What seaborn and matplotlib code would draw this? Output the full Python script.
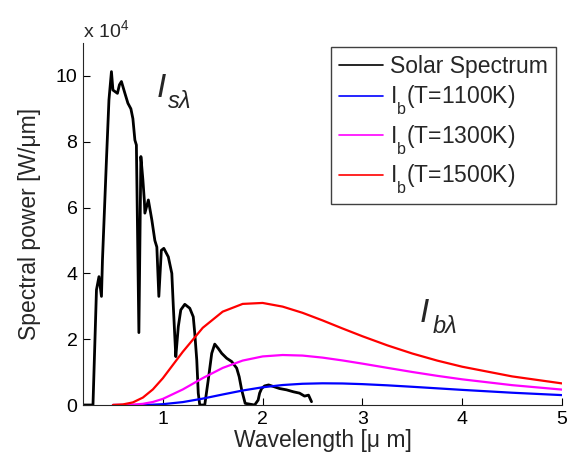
import numpy as np
import pandas as pd
import matplotlib
matplotlib.use("Agg")
import matplotlib.pyplot as plt
import matplotlib._mathtext as _mt
import seaborn as sns

# ---- data (spectral power in units of 1e4 W/um) ----
solar_wl = [0.20, 0.30, 0.335, 0.36, 0.385, 0.395, 0.435, 0.46, 0.485, 0.50, 0.545, 0.565,
            0.585, 0.62, 0.65, 0.68, 0.70, 0.72, 0.735, 0.76, 0.78, 0.80, 0.815, 0.82,
            0.855, 0.89, 0.92, 0.94, 0.96, 0.985, 1.01, 1.055, 1.09, 1.105, 1.12, 1.13,
            1.155, 1.18, 1.22, 1.27, 1.305, 1.32, 1.34, 1.355, 1.37, 1.42, 1.455, 1.49,
            1.52, 1.555, 1.59, 1.64, 1.69, 1.74, 1.765, 1.79, 1.825, 1.92, 1.955, 1.97,
            1.99, 2.02, 2.06, 2.11, 2.17, 2.24, 2.31, 2.37, 2.42, 2.46, 2.49]
solar_pw = [0, 0, 3.5, 3.9, 3.3, 4.4, 7.45, 9.27, 10.13, 9.57, 9.47, 9.73,
            9.83, 9.47, 9.17, 9.0, 8.7, 8.05, 7.9, 2.2, 7.55, 6.85, 6.2, 5.83,
            6.23, 5.62, 5.0, 4.8, 3.3, 4.7, 4.76, 4.5, 4.0, 3.0, 2.08, 1.47,
            2.38, 2.89, 3.06, 2.94, 2.68, 2.18, 1.37, 0.36, 0, 0, 0.76, 1.57,
            1.85, 1.72, 1.57, 1.42, 1.32, 1.12, 0.86, 0.46, 0.05, 0, 0.15, 0.36,
            0.5, 0.58, 0.61, 0.56, 0.5, 0.46, 0.40, 0.36, 0.27, 0.3, 0.1]

bb_wl = [0.5, 0.6, 0.7, 0.8, 0.9, 1.0, 1.2, 1.4, 1.6, 1.8, 2.0, 2.2, 2.4, 2.6, 2.8,
         3.0, 3.25, 3.5, 3.75, 4.0, 4.5, 5.0]
bb_1100 = [0.0, 0.0, 0.0005, 0.0029, 0.0098, 0.0248, 0.0884, 0.1943, 0.3198, 0.4405,
           0.5384, 0.6067, 0.6452, 0.6591, 0.6541, 0.6341, 0.5976, 0.5534, 0.5064,
           0.4595, 0.3731, 0.3005]
bb_1300 = [0.0, 0.0015, 0.0096, 0.0357, 0.092, 0.1855, 0.473, 0.817, 1.127, 1.350,
           1.476, 1.519, 1.502, 1.440, 1.354, 1.257, 1.129, 1.003, 0.886, 0.780,
           0.603, 0.468]
bb_1500 = [0.0018, 0.0174, 0.0792, 0.2257, 0.4735, 0.8135, 1.617, 2.346, 2.837, 3.072,
           3.101, 2.990, 2.801, 2.571, 2.326, 2.089, 1.812, 1.564, 1.349, 1.163,
           0.869, 0.656]

labels = ["Solar Spectrum", r"I$_\mathrm{b}$(T=1100K)", r"I$_\mathrm{b}$(T=1300K)",
          r"I$_\mathrm{b}$(T=1500K)"]
x_ticks = [1, 2, 3, 4, 5]
y_ticks = [0, 2, 4, 6, 8, 10]

sns.set_style("ticks")
plt.rcParams["font.family"] = ["Liberation Sans", "DejaVu Sans"]
plt.rcParams["mathtext.fontset"] = "custom"
plt.rcParams["mathtext.rm"] = "Liberation Sans"
plt.rcParams["mathtext.it"] = "Liberation Sans:italic"
plt.rcParams["mathtext.bf"] = "Liberation Sans:bold"
# deeper subscripts (MATLAB-TeX look)
_mt.FontConstantsBase.sub1 = 0.9

fig = plt.figure(figsize=(5.73, 4.62), dpi=100)
ax = fig.add_axes([83 / 573, 1 - 405 / 462, (562 - 83) / 573, (405 - 43) / 462])

solar_df = pd.DataFrame({"wl": solar_wl, "p": solar_pw})
sns.lineplot(data=solar_df, x="wl", y="p", ax=ax, color="black", lw=2.0,
             sort=False, estimator=None, label=labels[0])
bb_df = pd.DataFrame({"wl": bb_wl, "b1100": bb_1100, "b1300": bb_1300, "b1500": bb_1500})
for col, c, lab in [("b1100", "#0000ff", labels[1]), ("b1300", "#ff00ff", labels[2]),
                    ("b1500", "#ff0000", labels[3])]:
    sns.lineplot(data=bb_df, x="wl", y=col, ax=ax, color=c, lw=1.6,
                 estimator=None, label=lab)

ax.set_xlim(0.2, 5)
ax.set_ylim(0, 11)
ax.set_xticks(x_ticks)
ax.set_yticks(y_ticks)
ax.tick_params(direction="in", length=5, width=0.8, labelsize=14, colors="black", pad=4)
for s in ["top", "right"]:
    ax.spines[s].set_visible(False)
for s in ["left", "bottom"]:
    ax.spines[s].set_color("#262626")
    ax.spines[s].set_linewidth(0.8)

ax.set_xlabel("Wavelength [μ m]", fontsize=16.5, labelpad=1)
ax.set_ylabel("Spectral power [W/μm]", fontsize=16.5)
ax.yaxis.set_label_coords(-0.088, 0.5)

fig.text(83 / 573, 1 - 37 / 462, r"x 10$^{4}$", fontsize=14, va="baseline", ha="left")

ax.text(0.94, 9.36, "I", fontsize=24, style="italic", va="baseline", ha="left")
ax.text(1.05, 9.03, "sλ", fontsize=17, style="italic", va="baseline", ha="left")
ax.text(3.576, 2.52, "I", fontsize=24, style="italic", va="baseline", ha="left")
ax.text(3.70, 2.19, "bλ", fontsize=17, style="italic", va="baseline", ha="left")

leg = ax.legend(loc="upper right", bbox_to_anchor=(0.987, 0.989), borderaxespad=0,
                fontsize=16.5, frameon=True, fancybox=False, framealpha=1,
                edgecolor="#404040", handlelength=1.92, handletextpad=0.3,
                labelspacing=0.25, borderpad=0.35)
leg.get_frame().set_linewidth(1.0)
for line in leg.get_lines():
    line.set_linewidth(1.2)

fig.savefig("out.png", dpi=100)
